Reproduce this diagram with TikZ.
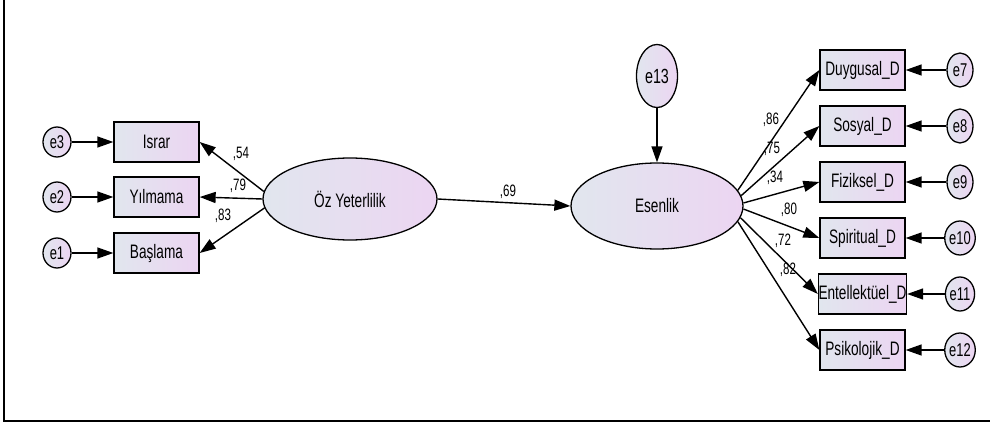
\documentclass[tikz,border=0pt]{standalone}
\usepackage{fontspec}
\setmainfont{Liberation Sans}[FakeStretch=0.7]
\usetikzlibrary{shapes.geometric,arrows.meta}
\definecolor{shL}{RGB}{225,230,238}
\definecolor{shR}{RGB}{236,213,242}
\tikzset{
  fillgrad/.style={left color=shL, right color=shR, draw=black, line width=1.3pt},
  latent/.style={fillgrad, ellipse, inner sep=0pt, font=\fontsize{19.5}{19.5}\selectfont},
  obsbox/.style={fillgrad, rectangle, inner sep=0pt, minimum width=85pt, minimum height=40pt, font=\fontsize{19.5}{19.5}\selectfont},
  errL/.style={fillgrad, ellipse, inner sep=0pt, minimum width=28pt, minimum height=30pt, font=\fontsize{18.5}{18.5}\selectfont},
  errR/.style={fillgrad, ellipse, inner sep=0pt, minimum width=26pt, minimum height=34pt, font=\fontsize{18.5}{18.5}\selectfont},
  path/.style={draw=black, line width=1.4pt, -{Triangle[length=16pt,width=11pt]}},
  coef/.style={inner sep=0pt, font=\fontsize{16.5}{16.5}\selectfont},
}
\begin{document}
\begin{tikzpicture}[x=1pt,y=-1pt]
\useasboundingbox (0,0) rectangle (990,425);
\draw[line width=1.8pt] (4,0) coordinate (fa) -- (4,421) coordinate (fb) -- (990,421) coordinate (fc);

% latent variables
\node[latent, minimum width=174pt, minimum height=82pt] (oz) at (350,199) {Öz Yeterlilik};
\node[latent, minimum width=172pt, minimum height=86pt] (es) at (657,206) {Esenlik};
\node[latent, minimum width=41pt, minimum height=63pt, font=\fontsize{20.5}{20.5}\selectfont] (e13) at (657,76) {e13};

% left indicators
\node[obsbox] (isr) at (156.5,142) {Israr};
\node[obsbox] (yil) at (156.5,197) {Yılmama};
\node[obsbox] (bas) at (156.5,253) {Başlama};
\node[errL] (e3) at (57,142) {e3};
\node[errL] (e2) at (57,197) {e2};
\node[errL] (e1) at (57,253) {e1};

% right indicators
\node[obsbox] (duy) at (862.5,70) {Duygusal\_D};
\node[obsbox] (sos) at (862.5,126) {Sosyal\_D};
\node[obsbox] (fiz) at (862.5,182) {Fiziksel\_D};
\node[obsbox] (spi) at (862.5,238) {Spiritual\_D};
\node[obsbox] (ent) at (862.5,294) {Entellektüel\_D};
\node[obsbox] (psi) at (862.5,350) {Psikolojik\_D};
\node[errR] (e7) at (960,70) {e7};
\node[errR] (e8) at (960,126) {e8};
\node[errR] (e9) at (960,182) {e9};
\node[errR] (e10) at (960,238) {e10};
\node[errR] (e11) at (960,294) {e11};
\node[errR] (e12) at (960,350) {e12};

% error arrows
\draw[path] (e3.east) -- (isr.west);
\draw[path] (e2.east) -- (yil.west);
\draw[path] (e1.east) -- (bas.west);
\draw[path] (e7.west) -- (duy.east);
\draw[path] (e8.west) -- (sos.east);
\draw[path] (e9.west) -- (fiz.east);
\draw[path] (e10.west) -- (spi.east);
\draw[path] (e11.west) -- (ent.east);
\draw[path] (e12.west) -- (psi.east);
\draw[path] (e13.south) -- (es.north);

% loadings
\draw[path] (oz.175) -- (isr.east);
\draw[path] (oz.180) -- (yil.east);
\draw[path] (oz.186) -- (bas.east);
\draw[path] (oz.east) -- (es.west);
\draw[path] (es.11) -- (duy.west);
\draw[path] (es.7.5) -- (sos.west);
\draw[path] (es.2.5) -- (fiz.west);
\draw[path] (es.-2.5) -- (spi.west);
\draw[path] (es.-8) -- (ent.west);
\draw[path] (es.-11) -- (psi.west);

% coefficients
\node[coef] (c54) at (241,154) {,54};
\node[coef] (c79) at (238,186) {,79};
\node[coef] (c83) at (223,216) {,83};
\node[coef] (c69) at (508,192) {,69};
\node[coef] (c86) at (771,120) {,86};
\node[coef] (c75) at (772,149) {,75};
\node[coef] (c34) at (775,178) {,34};
\node[coef] (c80) at (789,210) {,80};
\node[coef] (c72) at (783,241) {,72};
\node[coef] (c82) at (788,270) {,82};
\end{tikzpicture}
\end{document}
